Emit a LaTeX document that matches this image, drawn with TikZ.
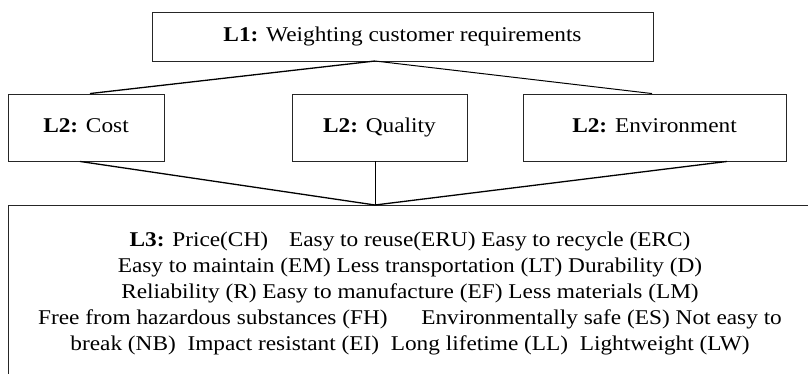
\documentclass[tikz,border=0pt]{standalone}
\usepackage{fontspec}
\setmainfont[FakeStretch=1.11]{Liberation Serif}
\begin{document}
\begin{tikzpicture}[x=1pt,y=1pt,
  box/.style={draw=black!85, line width=0.9pt, inner sep=0pt, minimum height=67pt,
    text height=14pt, text depth=4pt, font=\fontsize{21}{26}\selectfont},
  conn/.style={draw=black, line width=1.3pt},
  txt/.style={inner sep=0pt, align=center, font=\fontsize{21}{26}\selectfont}]
\useasboundingbox (0,0) rectangle (808,-374);
\node[box, minimum width=501pt, minimum height=49pt] (l1) at (402.5,-36.5) {\textbf{L1:} Weighting customer requirements};
\node[box, minimum width=156pt] (cost) at (86,-127.5) {\textbf{L2:} Cost};
\node[box, minimum width=175pt] (quality) at (379.5,-127.5) {\textbf{L2:} Quality};
\node[box, minimum width=263pt] (env) at (654.5,-127.5) {\textbf{L2:} Environment};
\coordinate (top) at (375,-61);
\coordinate (bot) at (375,-205);
\coordinate (l3tr) at (808,-205);
\coordinate (l3tl) at (8,-205);
\coordinate (l3bl) at (8,-374);
\draw[box] (l3tr) -- (l3tl) -- (l3bl);
\node[txt] (l3) at (410,-293.5) {\textbf{L3:} Price(CH)\quad Easy to reuse(ERU) Easy to recycle (ERC)\\
Easy to maintain (EM) Less transportation (LT) Durability (D)\\
Reliability (R) Easy to manufacture (EF) Less materials (LM)\\
Free from hazardous substances (FH)\hspace{1.6em}Environmentally safe (ES) Not easy to\\
break (NB)\ \ Impact resistant (EI)\ \ Long lifetime (LL)\ \ Lightweight (LW)};
\draw[conn] (top) -- ([xshift=4pt]cost.north);
\draw[conn, line width=1pt] (top) -- ([xshift=-2.5pt]env.north);
\draw[conn] ([xshift=-6pt]cost.south) -- (bot);
\draw[conn, line width=1pt] (bot |- quality.south) -- (bot);
\draw[conn] ([xshift=72.5pt]env.south) -- (bot);
\end{tikzpicture}
\end{document}
